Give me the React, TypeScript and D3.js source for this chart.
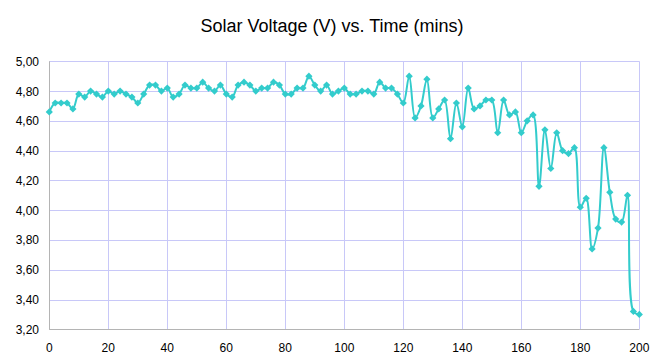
import React from "react";
import * as d3 from "d3";

const times: number[] = Array.from({ length: 101 }, (_, i) => i * 2);
const voltages: number[] = [
  4.66, 4.72, 4.72, 4.72, 4.68, 4.78, 4.76, 4.80, 4.78, 4.76,
  4.80, 4.78, 4.80, 4.78, 4.76, 4.72, 4.78, 4.84, 4.84, 4.80,
  4.82, 4.76, 4.78, 4.84, 4.82, 4.82, 4.86, 4.82, 4.80, 4.84,
  4.78, 4.76, 4.84, 4.86, 4.84, 4.80, 4.82, 4.82, 4.86, 4.84,
  4.78, 4.78, 4.82, 4.82, 4.90, 4.84, 4.80, 4.84, 4.78, 4.80,
  4.82, 4.78, 4.78, 4.80, 4.80, 4.78, 4.86, 4.82, 4.82, 4.78,
  4.72, 4.90, 4.62, 4.70, 4.88, 4.62, 4.68, 4.74, 4.48, 4.72,
  4.56, 4.82, 4.68, 4.70, 4.74, 4.74, 4.52, 4.74, 4.64, 4.66,
  4.52, 4.60, 4.64, 4.16, 4.54, 4.28, 4.52, 4.40, 4.38, 4.42,
  4.02, 4.08, 3.74, 3.88, 4.42, 4.12, 3.94, 3.92, 4.10, 3.32,
  3.30,
];
const xTicks: number[] = [0, 20, 40, 60, 80, 100, 120, 140, 160, 180, 200];
const yTicks: number[] = [3.2, 3.4, 3.6, 3.8, 4.0, 4.2, 4.4, 4.6, 4.8, 5.0];
const title = "Solar Voltage (V) vs. Time (mins)";

export default function App() {
  const W = 664, H = 360;
  const left = 49.3, right = 639.3, top = 61.3, bottom = 329.3;
  const x = d3.scaleLinear().domain([0, 200]).range([left, right]);
  const y = d3.scaleLinear().domain([3.2, 5.0]).range([bottom, top]);
  const data = times.map((t, i) => [t, voltages[i]] as [number, number]);
  const line = d3.line<[number, number]>()
    .x(d => x(d[0]))
    .y(d => y(d[1]))
    .curve(d3.curveCatmullRom.alpha(0.5));
  const marker = d3.symbol().type(d3.symbolSquare).size(26)() as string;
  const fmt = (v: number) => v.toFixed(2).replace(".", ",");
  const grid = "#c8c8f8";
  const font = "'Liberation Sans', Arial, sans-serif";
  return (
    <svg width={W} height={H} style={{ position: "absolute", left: 0, top: 0, background: "#fff" }}>
      <rect width={W} height={H} fill="#fff" />
      <text x={332} y={31.5} textAnchor="middle" fontFamily={font} fontSize={18} fill="#000">{title}</text>
      {yTicks.slice(1).map(v => (
        <line key={"gy" + v} x1={left} x2={right} y1={Math.round(y(v)) + 0.5} y2={Math.round(y(v)) + 0.5} stroke={grid} strokeWidth={1} />
      ))}
      {xTicks.slice(1).map(v => (
        <line key={"gx" + v} x1={Math.round(x(v)) + 0.5} x2={Math.round(x(v)) + 0.5} y1={top} y2={bottom} stroke={grid} strokeWidth={1} />
      ))}
      <line x1={Math.round(left) + 0.5} x2={Math.round(left) + 0.5} y1={top} y2={bottom + 0.5} stroke="#b4b4b4" strokeWidth={1} />
      <line x1={left} x2={right} y1={Math.round(bottom) + 0.5} y2={Math.round(bottom) + 0.5} stroke="#b4b4b4" strokeWidth={1} />
      {yTicks.map(v => (
        <text key={"ty" + v} x={39} y={y(v) + 4.5} textAnchor="end" fontFamily={font} fontSize={12} fill="#000">{fmt(v)}</text>
      ))}
      {xTicks.map(v => (
        <text key={"tx" + v} x={x(v)} y={352} textAnchor="middle" fontFamily={font} fontSize={12} fill="#000">{v}</text>
      ))}
      <path d={line(data) as string} fill="none" stroke="#33cccc" strokeWidth={2} />
      {data.map((d, i) => (
        <path key={"m" + i} d={marker} transform={`translate(${x(d[0])},${y(d[1])}) rotate(45)`} fill="#33cccc" />
      ))}
    </svg>
  );
}
